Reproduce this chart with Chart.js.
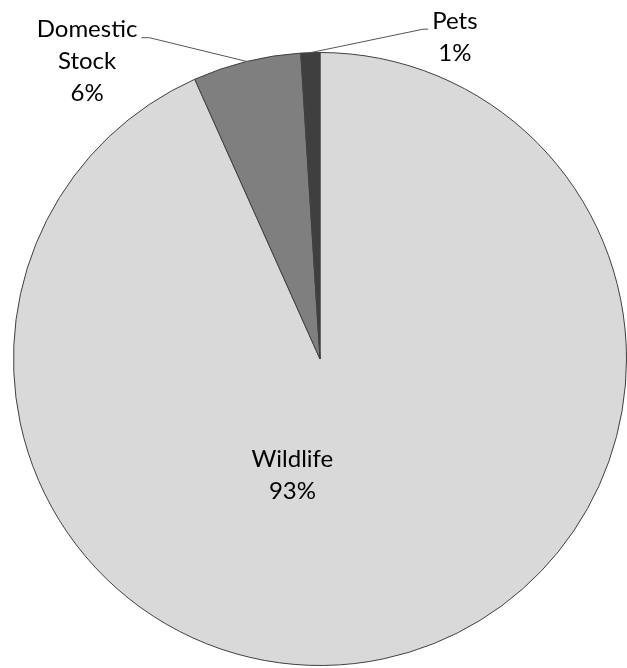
<!DOCTYPE html>
<html lang="en">
<head>
    <meta charset="UTF-8">
    <title>Sources pie</title>
    <script src="https://cdn.jsdelivr.net/npm/chart.js"></script>
    <style>
        body {
            margin: 0;
            background-color: #fff;
        }
        #chartContainer {
            width: 627px;
            height: 668px;
        }
    </style>
</head>
<body>

    <div id="chartContainer">
        <canvas id="myChart" width="627" height="668"></canvas>
    </div>

    <script>
        // data (shares, labels show them rounded)
        const categories = ['Wildlife', 'Domestic Stock', 'Pets'];
        const percents = [93.3, 5.7, 1.0];
        const sliceColors = ['#d9d9d9', '#7f7f7f', '#3f3f3f'];

        // where each label sits, in units of the pie radius (from the centre)
        const labelPlacement = [
            { dx: -0.09, dy: 0.38, lines: ['Wildlife'], leader: false },
            { dx: -0.76, dy: -0.97, lines: ['Domestic', 'Stock'], leader: true },
            { dx: 0.44, dy: -1.05, lines: ['Pets'], leader: true }
        ];

        const FONT = '24px Lato, "Open Sans", sans-serif';
        const LINE_H = 32;

        const pieLabels = {
            id: 'pieLabels',
            afterDatasetsDraw(chart) {
                const ctx = chart.ctx;
                const meta = chart.getDatasetMeta(0);
                ctx.save();
                ctx.font = FONT;
                ctx.fillStyle = '#000';
                ctx.textAlign = 'center';
                ctx.textBaseline = 'middle';

                meta.data.forEach((arc, i) => {
                    const p = labelPlacement[i];
                    const R = arc.outerRadius;
                    const lines = p.lines.concat([Math.round(percents[i]) + '%']);
                    const cx = arc.x + p.dx * R;
                    const cy = arc.y + p.dy * R;
                    const top = cy - (lines.length - 1) * LINE_H / 2;

                    lines.forEach((t, k) => {
                        ctx.fillText(t, cx, top + k * LINE_H);
                    });

                    if (p.leader) {
                        const mid = (arc.startAngle + arc.endAngle) / 2;
                        const ex = arc.x + Math.cos(mid) * R;
                        const ey = arc.y + Math.sin(mid) * R;
                        const w = ctx.measureText(lines[0]).width;
                        const ly = top + 8;
                        let x1, x2;
                        if (cx < arc.x) {
                            x1 = cx + w / 2 + 4;
                            x2 = x1 + 8;
                        } else {
                            x1 = cx - w / 2 - 4;
                            x2 = x1 - 5;
                        }
                        ctx.beginPath();
                        ctx.moveTo(x1, ly);
                        ctx.lineTo(x2, ly);
                        ctx.lineTo(ex, ey);
                        ctx.lineWidth = 1;
                        ctx.strokeStyle = '#555';
                        ctx.stroke();
                    }
                });
                ctx.restore();
            }
        };

        const ctx = document.getElementById('myChart').getContext('2d');
        const chart = new Chart(ctx, {
            type: 'pie',
            data: {
                labels: categories,
                datasets: [{
                    data: percents,
                    backgroundColor: sliceColors,
                    borderColor: '#404040',
                    borderWidth: 1
                }]
            },
            options: {
                responsive: false,
                animation: false,
                layout: {
                    padding: { left: 13, top: 52, right: 0, bottom: 2 }
                },
                plugins: {
                    legend: { display: false },
                    tooltip: { enabled: false }
                }
            },
            plugins: [pieLabels]
        });
    </script>
</body>
</html>
